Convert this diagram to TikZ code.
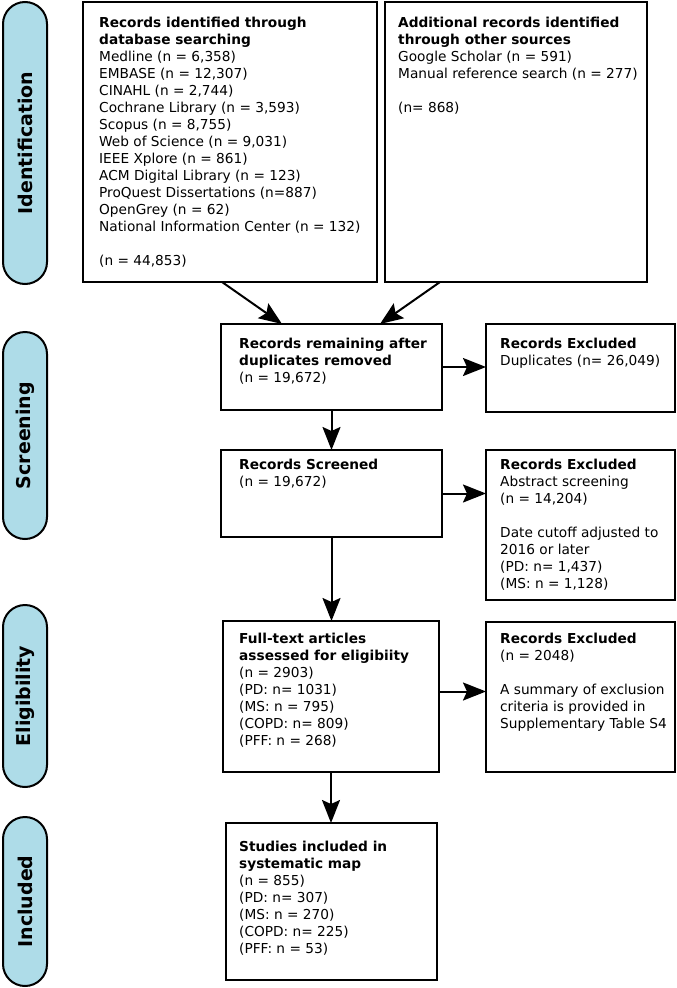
\documentclass[tikz,border=0pt]{standalone}
\usepackage{fontspec}
\setmainfont{DejaVu Sans}
\usetikzlibrary{arrows.meta,calc}
\definecolor{pillblue}{RGB}{174,220,232}
\newcommand{\firstln}{\rule{0pt}{12pt}}
\begin{document}
\begin{tikzpicture}[x=1pt,y=-1pt,
  box/.style={draw=black, line width=2pt, fill=white, inner sep=0pt, outer sep=0pt, anchor=north west},
  pill/.style={draw=black, line width=2pt, fill=pillblue, rounded corners=22pt, inner sep=0pt, outer sep=0pt, anchor=north west, minimum width=44pt},
  pilltxt/.style={rotate=90, inner sep=0pt, font=\fontsize{19}{22}\selectfont\bfseries},
  txt/.style={anchor=north west, align=left, inner sep=0pt, font=\fontsize{13.7}{17}\selectfont},
  arr/.style={line width=2pt, -{Stealth[length=23pt,width=18pt,inset=4pt]}}
]
\useasboundingbox (0,0) rectangle (677,988);

% phase pills
\node[pill, minimum height=282pt] (pid) at (3,2) {};
\node[pilltxt] (pidt) at (pid.center) {Identification};
\node[pill, minimum height=207pt] (pscr) at (3,332) {};
\node[pilltxt] (pscrt) at (pscr.center) {Screening};
\node[pill, minimum height=182pt] (pel) at (3,605) {};
\node[pilltxt] (pelt) at (pel.center) {Eligibility};
\node[pill, minimum height=169pt] (pinc) at (3,817) {};
\node[pilltxt] (pinct) at (pinc.center) {Included};

% boxes
\node[box, minimum width=294pt, minimum height=280pt] (b1) at (83,2) {};
\node[box, minimum width=262pt, minimum height=280pt] (b2) at (385,2) {};
\node[box, minimum width=221pt, minimum height=86pt] (rem) at (221,324) {};
\node[box, minimum width=189pt, minimum height=88pt] (ex1) at (486,324) {};
\node[box, minimum width=221pt, minimum height=87pt] (scr) at (221,450) {};
\node[box, minimum width=189pt, minimum height=150pt] (ex2) at (486,450) {};
\node[box, minimum width=216pt, minimum height=151pt] (ft) at (223,621) {};
\node[box, minimum width=189pt, minimum height=150pt] (ex3) at (486,622) {};
\node[box, minimum width=211pt, minimum height=157pt] (inc) at (226,823) {};

% texts (node top = first baseline - 12)
\node[txt] (b1t) at (99,15) {\firstln\textbf{Records identified through}\\\textbf{database searching}\\
Medline (n = 6,358)\\EMBASE (n = 12,307)\\CINAHL (n = 2,744)\\Cochrane Library (n = 3,593)\\
Scopus (n = 8,755)\\Web of Science (n = 9,031)\\IEEE Xplore (n = 861)\\ACM Digital Library (n = 123)\\
ProQuest Dissertations (n=887)\\OpenGrey (n = 62)\\National Information Center (n = 132)\\[17pt]
(n = 44,853)};
\node[txt] (b2t) at (398,15) {\firstln\textbf{Additional records identified}\\\textbf{through other sources}\\
Google Scholar (n = 591)\\Manual reference search (n = 277)\\[17pt](n= 868)};
\node[txt] (remt) at (239,336) {\firstln\textbf{Records remaining after}\\\textbf{duplicates removed}\\(n = 19,672)};
\node[txt] (ex1t) at (500,336) {\firstln\textbf{Records Excluded}\\Duplicates (n= 26,049)};
\node[txt] (scrt) at (239,457) {\firstln\textbf{Records Screened}\\(n = 19,672)};
\node[txt] (ex2t) at (500,457) {\firstln\textbf{Records Excluded}\\Abstract screening\\(n = 14,204)\\[17pt]
Date cutoff adjusted to\\2016 or later\\(PD: n= 1,437)\\(MS: n = 1,128)};
\node[txt] (ftt) at (239,631) {\firstln\textbf{Full-text articles}\\\textbf{assessed for eligibiity}\\(n = 2903)\\
(PD: n= 1031)\\(MS: n = 795)\\(COPD: n= 809)\\(PFF: n = 268)};
\node[txt] (ex3t) at (500,631) {\firstln\textbf{Records Excluded}\\(n = 2048)\\[17pt]A summary of exclusion\\
criteria is provided in\\Supplementary Table S4};
\node[txt] (inct) at (239,839) {\firstln\textbf{Studies included in}\\\textbf{systematic map}\\(n = 855)\\
(PD: n= 307)\\(MS: n = 270)\\(COPD: n= 225)\\(PFF: n = 53)};

% connectors
\draw[arr] ([xshift=-8pt]b1.south) -- ([xshift=-49.5pt]rem.north);
\draw[arr] ([xshift=55pt]b2.south west) -- ([xshift=48.5pt]rem.north);
\draw[arr] (rem.east) -- (rem.east -| ex1.west);
\draw[arr] (rem.south) -- (scr.north);
\draw[arr] (scr.east) -- (scr.east -| ex2.west);
\draw[arr] (scr.south) -- (scr.south |- ft.north);
\draw[arr] ([yshift=5pt]ft.east) -- ([yshift=5pt]ft.east -| ex3.west);
\draw[arr] (ft.south) -- (ft.south |- inc.north);
\end{tikzpicture}
\end{document}
